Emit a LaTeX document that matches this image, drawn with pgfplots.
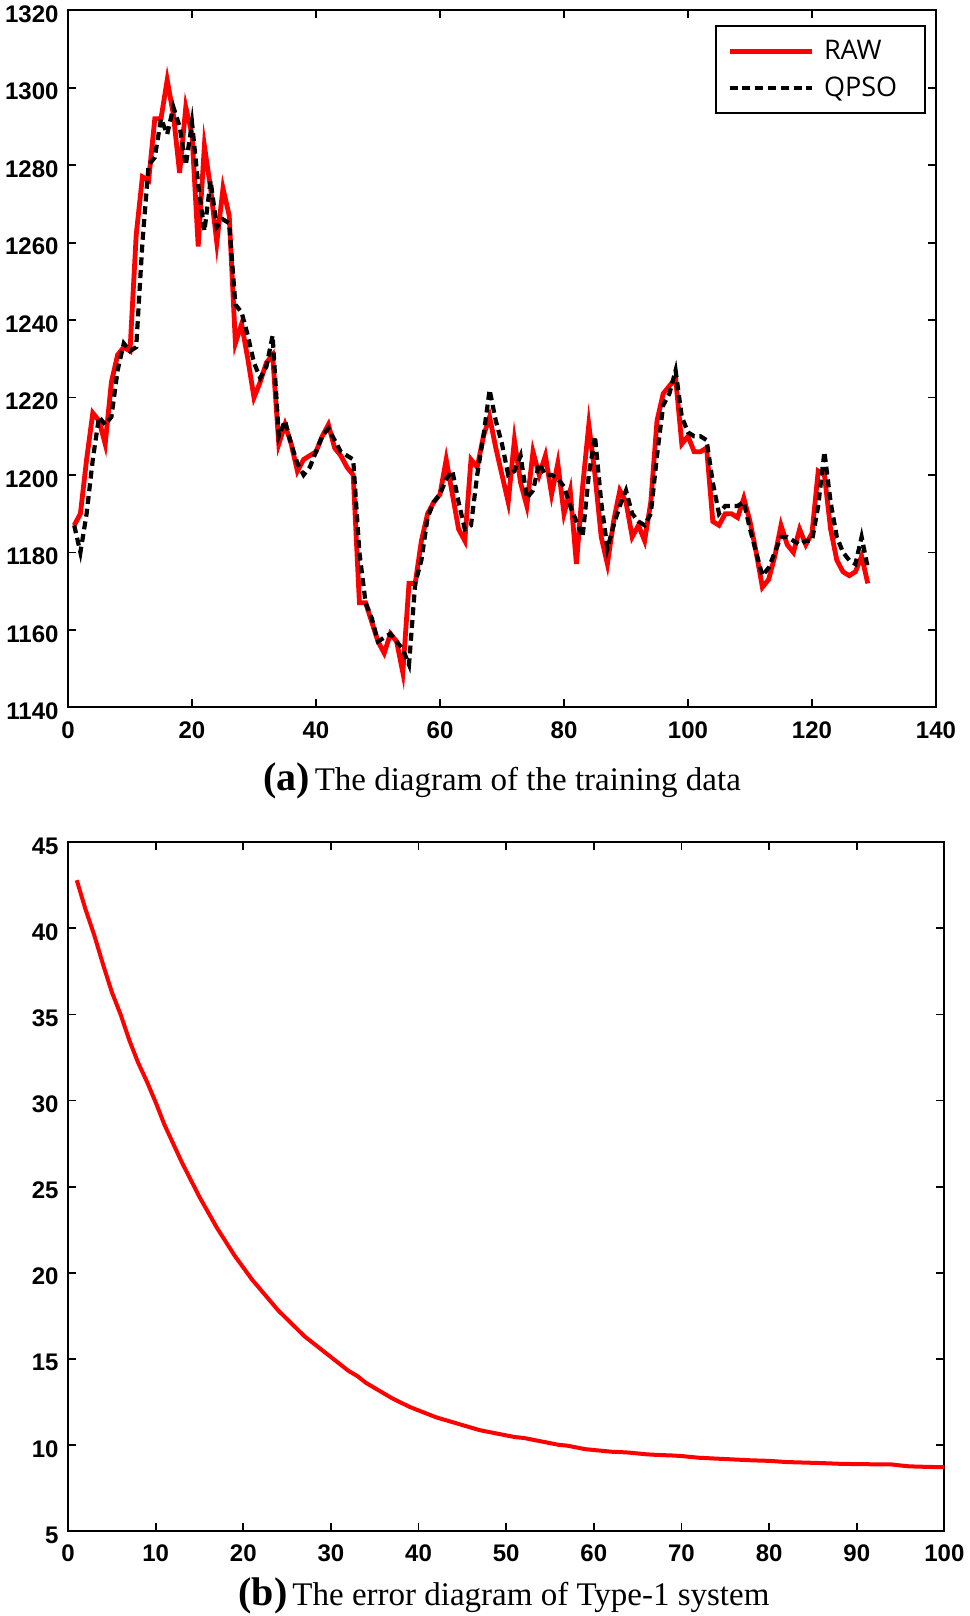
\documentclass[border=0pt]{standalone}
\usepackage{fontspec}
\setmainfont{Liberation Serif}
\newfontfamily\tickfont{Liberation Sans}
\newfontfamily\legfont{Open Sans}
\usepackage{pgfplots}
\usepackage{pgfplotstable}
\pgfplotsset{compat=1.18}

% training data: index, RAW, QPSO
\pgfplotstableread{
x raw qpso
1 1187 1187
2 1190 1180
3 1204 1190
4 1216 1204
5 1214 1215
6 1208 1213
7 1224 1215
8 1231 1227
9 1233 1234
10 1232 1232
11 1262 1233
12 1277 1260
13 1276 1280
14 1292 1282
15 1292 1292
16 1302 1288
17 1293 1295
18 1278 1290
19 1295 1280
20 1288 1291
21 1259 1275
22 1285 1263
23 1274 1276
24 1260 1264
25 1274 1266
26 1267 1265
27 1234 1244
28 1239 1242
29 1230 1236
30 1220 1229
31 1224 1225
32 1229 1228
33 1231 1236
34 1208 1210
35 1213 1214
36 1208 1208
37 1201 1203
38 1204 1200
39 1205 1202
40 1206 1206
41 1210 1210
42 1213 1212
43 1207 1209
44 1205 1206
45 1202 1205
46 1200 1204
47 1167 1180
48 1167 1167
49 1162 1163
50 1157 1157
51 1154 1158
52 1159 1159
53 1157 1157
54 1149 1155
55 1172 1151
56 1172 1172
57 1183 1178
58 1190 1189
59 1193 1193
60 1195 1195
61 1204 1199
62 1195 1201
63 1186 1193
64 1183 1186
65 1204 1187
66 1202 1200
67 1210 1210
68 1215 1222
69 1207 1214
70 1200 1208
71 1193 1200
72 1209 1201
73 1198 1205
74 1192 1194
75 1206 1196
76 1200 1203
77 1205 1200
78 1195 1200
79 1203 1199
80 1190 1197
81 1196 1192
82 1177 1188
83 1197 1184
84 1213 1200
85 1200 1210
86 1184 1193
87 1177 1181
88 1188 1187
89 1196 1192
90 1193 1196
91 1184 1190
92 1187 1188
93 1183 1187
94 1193 1190
95 1214 1205
96 1221 1218
97 1223 1221
98 1225 1227
99 1208 1215
100 1210 1211
101 1206 1210
102 1206 1210
103 1207 1209
104 1188 1198
105 1187 1190
106 1190 1192
107 1190 1192
108 1189 1192
109 1194 1193
110 1188 1186
111 1180 1180
112 1171 1174
113 1173 1176
114 1179 1180
115 1187 1184
116 1182 1184
117 1180 1183
118 1186 1182
119 1182 1183
120 1185 1183
121 1201 1192
122 1200 1206
123 1186 1193
124 1178 1184
125 1175 1180
126 1174 1178
127 1175 1177
128 1179 1184
129 1172 1176
}\traindata

% error of the Type-1 system
\pgfplotstableread{
x err
1 42.8
2 41.1
3 39.6
4 37.9
5 36.3
6 35.0
7 33.5
8 32.2
9 31.1
10 29.9
11 28.6
12 27.5
13 26.4
14 25.4
15 24.4
16 23.5
17 22.6
18 21.8
19 21.0
20 20.3
21 19.6
22 19.0
23 18.4
24 17.8
25 17.3
26 16.8
27 16.3
28 15.9
29 15.5
30 15.1
31 14.7
32 14.3
33 14.0
34 13.6
35 13.3
36 13.0
37 12.7
38 12.45
39 12.2
40 12.0
41 11.8
42 11.6
43 11.45
44 11.3
45 11.15
46 11.0
47 10.85
48 10.75
49 10.65
50 10.55
51 10.45
52 10.4
53 10.3
54 10.2
55 10.1
56 10.0
57 9.95
58 9.85
59 9.75
60 9.7
61 9.65
62 9.6
63 9.58
64 9.55
65 9.5
66 9.45
67 9.42
68 9.4
69 9.38
70 9.35
72 9.25
74 9.2
76 9.15
78 9.1
80 9.07
82 9.0
84 8.97
86 8.94
88 8.9
90 8.88
92 8.87
94 8.86
95 8.8
96 8.75
98 8.72
100 8.7
}\errdata

\pgfplotsset{
  panel/.style={
    scale only axis,
    anchor=north west,
    axis line style={line width=1pt},
    tick style={line width=0.9pt, black},
    major tick length=4pt,
    tick align=inside,
    ticklabel style={font=\tickfont\bfseries\fontsize{12}{13}\selectfont},
    /pgf/number format/assume math mode=true,
    /pgf/number format/1000 sep={},
    xticklabel style={yshift=-3.5pt},
    yticklabel style={xshift=-1.2pt, yshift=-2pt},
  }
}

\begin{document}
\begin{tikzpicture}
\path[use as bounding box] (0,0) rectangle (484.5pt,-808pt);

\begin{axis}[panel,
  at={(34pt,-5.15pt)}, width=434pt, height=348.5pt,
  xmin=0, xmax=140, ymin=1140, ymax=1320,
  xtick={0,20,...,140}, ytick={1140,1160,...,1320},
  legend style={at={(1,1)}, anchor=north east, xshift=-5pt, yshift=-7.5pt,
    draw=black, line width=1pt, inner xsep=5.5pt, inner ysep=5pt,
    font=\legfont\fontsize{13.5}{15}\selectfont, cells={anchor=west},
    row sep=3pt},
  legend image code/.code={\draw[#1] (0pt,0pt) -- (41pt,0pt);},
]
\addplot[red, line width=2.4pt] table[x=x, y=raw] {\traindata};
\addlegendentry{\makebox[46pt][l]{\hspace{3pt}RAW}}
\addplot[black, line width=2.1pt, dash pattern=on 4pt off 2.4pt] table[x=x, y=qpso] {\traindata};
\addlegendentry{\makebox[46pt][l]{\hspace{3pt}QPSO}}
\end{axis}

\node[anchor=base] at (251pt,-395pt)
  {\textbf{\fontsize{20}{21}\selectfont(a)} \fontsize{16.5}{18}\selectfont The diagram of the training data};

\begin{axis}[panel,
  at={(34pt,-421.15pt)}, width=438.2pt, height=344.3pt,
  xmin=0, xmax=100, ymin=5, ymax=45,
  xtick={0,10,...,100}, ytick={5,10,...,45},
]
\addplot[red, line width=2pt] table[x=x, y=err] {\errdata};
\end{axis}

\node[anchor=base] at (252pt,-802.6pt)
  {\textbf{\fontsize{20}{21}\selectfont(b)} \fontsize{16.5}{18}\selectfont The error diagram of Type-1 system};
\end{tikzpicture}
\end{document}
